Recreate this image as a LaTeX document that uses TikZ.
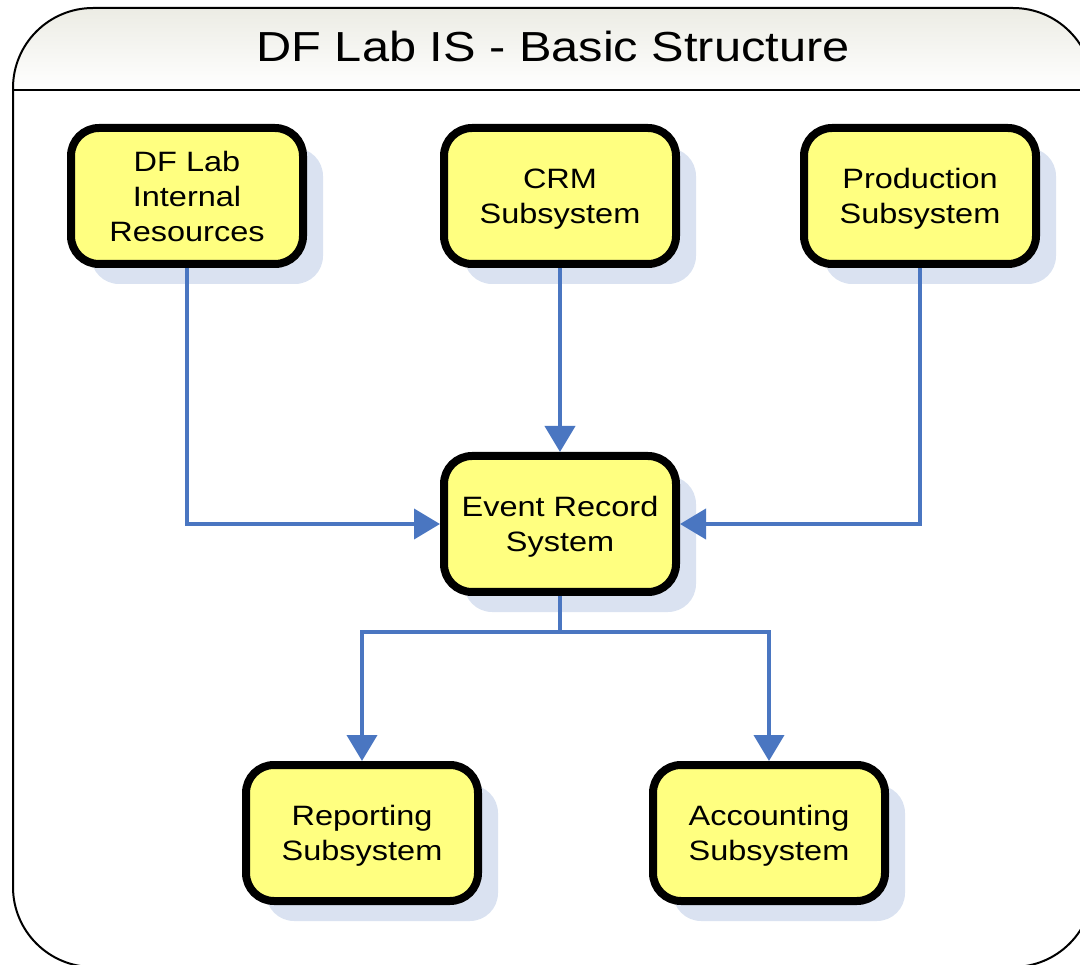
\documentclass[tikz,border=0pt]{standalone}
\usepackage{fontspec}
\setmainfont[FakeStretch=1.16]{Liberation Sans}
\usetikzlibrary{arrows.meta,shadows}
\definecolor{boxyellow}{RGB}{255,255,128}
\definecolor{shadowblue}{RGB}{218,226,241}
\definecolor{linkblue}{RGB}{74,118,193}
\definecolor{titletop}{RGB}{236,236,228}
\begin{document}
\begin{tikzpicture}[x=1pt,y=-1pt,
  sysbox/.style={draw=black, line width=8pt, fill=boxyellow, rounded corners=28pt,
    minimum width=232pt, minimum height=136pt, inner sep=0pt, align=center,
    text depth=0pt,
    font=\fontsize{28}{35}\selectfont,
    drop shadow={shadow xshift=20pt, shadow yshift=-20pt, fill=shadowblue, opacity=1, draw=none}},
  link/.style={draw=linkblue, line width=4pt},
  linkarrow/.style={link, -{Triangle[width=30pt,length=26pt]}}]
\useasboundingbox (0,0) rectangle (1080,965);
\clip (0,0) rectangle (1080,965);
% frame with title bar
\begin{scope}
  \clip[rounded corners=80pt] (13,8) rectangle (1093,967);
  \shade[top color=titletop, bottom color=white] (13,8) rectangle (1093,90);
\end{scope}
\draw[line width=2pt] (13,90) -- (1093,90);
\draw[line width=2pt, rounded corners=80pt] (13,8) rectangle (1093,967);
\node[font=\fontsize{42}{50}\selectfont, anchor=base, inner sep=0pt] (title) at (553,62) {DF Lab IS - Basic Structure};
% boxes
\node[sysbox] (dfl) at (187,196) {DF Lab\\Internal\\Resources};
\node[sysbox] (crm) at (560,196) {CRM\\Subsystem};
\node[sysbox] (prod) at (920,196) {Production\\Subsystem};
\node[sysbox] (ers) at (560,524) {Event Record\\System};
\node[sysbox] (rep) at (362,833) {Reporting\\Subsystem};
\node[sysbox] (acc) at (769,833) {Accounting\\Subsystem};
% connectors
\draw[linkarrow] (dfl.south) |- (ers.west);
\draw[linkarrow] (crm.south) -- (ers.north);
\draw[linkarrow] (prod.south) |- (ers.east);
\coordinate (split) at (560,632);
\draw[link] (ers.south) -- (split);
\draw[linkarrow] (split) -| (rep.north);
\draw[linkarrow] (split) -| (acc.north);
\end{tikzpicture}
\end{document}
